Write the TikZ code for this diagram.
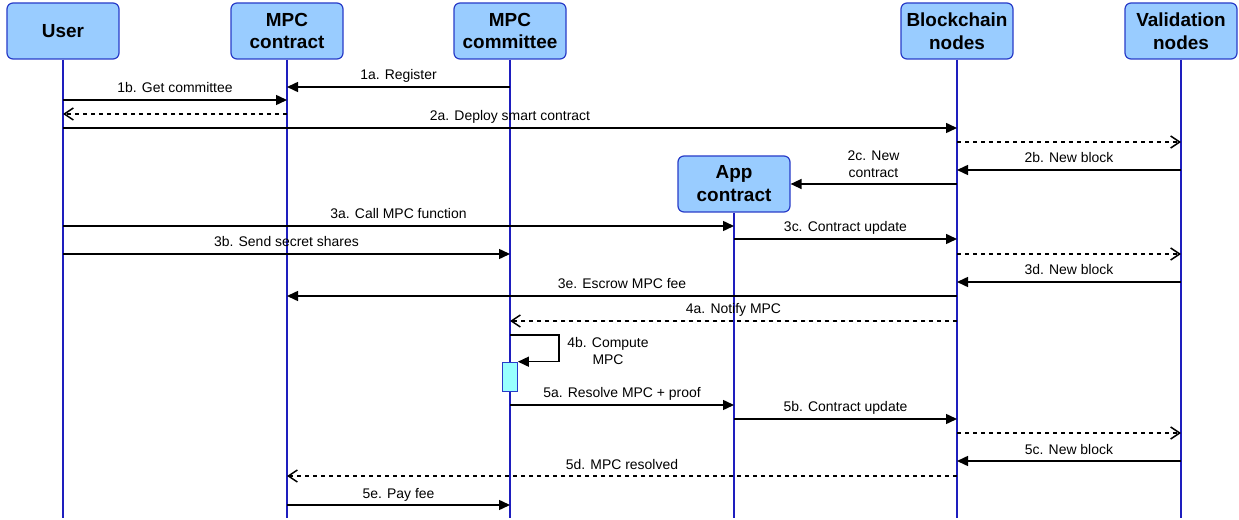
\documentclass[tikz,border=0pt]{standalone}
\usepackage{fontspec}
\setmainfont{Liberation Sans}
\usepackage{tikz}
\usetikzlibrary{
    arrows.meta,
    calc,
    positioning
}
\definecolor{headblue}{HTML}{99CCFF}
\definecolor{boxblue}{RGB}{40,60,200}
\definecolor{lifeblue}{RGB}{30,30,190}
\definecolor{actcyan}{HTML}{99FFFF}

\begin{document}
\begin{tikzpicture}[x=1bp, y=-1bp,
    actor/.style={draw=boxblue, fill=headblue, rounded corners=6bp, line width=1.2bp,
        minimum width=112bp, minimum height=56bp, inner sep=0pt, align=center,
        font=\bfseries\fontsize{19}{23}\selectfont},
    life/.style={draw=lifeblue, line width=1.5bp},
    msg/.style={-{Triangle[length=11bp, width=10bp]}, line width=1.5bp},
    reply/.style={-{Straight Barb[length=9bp, width=12bp]}, line width=1.5bp,
        dash pattern=on 4bp off 4bp},
    lbl/.style={midway, anchor=base, yshift=7bp, inner sep=0pt,
        font=\fontsize{14}{17}\selectfont},
    note/.style={inner sep=0pt, align=center, font=\fontsize{14}{17}\selectfont},
    actbox/.style={draw=boxblue, fill=actcyan, line width=1.2bp,
        minimum width=14.6bp, minimum height=29.4bp, inner sep=0pt}]
    \useasboundingbox (0,0) rectangle (1239,520);

    % participants
    \node[actor] (user)  at (63,31)   {User};
    \node[actor] (mpcc)  at (287,31)  {MPC\\contract};
    \node[actor] (comm)  at (510,31)  {MPC\\committee};
    \node[actor] (chain) at (957,31)  {Blockchain\\nodes};
    \node[actor] (valid) at (1181,31) {Validation\\nodes};
    \node[actor] (app)   at (734,184) {App\\contract};

    % lifelines
    \foreach \p in {user, mpcc, comm, chain, valid, app}
        \draw[life] (\p.south) -- (\p |- 0,518);

    % phase 1: committee setup
    \draw[msg] (comm |- 0,87) -- node[lbl] {1a. Register} (mpcc |- 0,87);
    \draw[msg] (user |- 0,100) -- node[lbl] {1b. Get committee} (mpcc |- 0,100);
    \draw[reply] (mpcc |- 0,114) -- (user |- 0,114);

    % phase 2: deployment
    \draw[msg] (user |- 0,128) -- node[lbl] {2a. Deploy smart contract} (chain |- 0,128);
    \draw[reply] (chain |- 0,142) -- (valid |- 0,142);
    \draw[msg] (valid |- 0,170) -- node[lbl] {2b. New block} (chain |- 0,170);
    \draw[msg] (chain |- 0,184) -- (app.east);
    \node[note] (newc) at (873.5,164) {2c. New\\contract};

    % phase 3: call
    \draw[msg] (user |- 0,226) -- node[lbl] {3a. Call MPC function} (app |- 0,226);
    \draw[msg] (app |- 0,239) -- node[lbl] {3c. Contract update} (chain |- 0,239);
    \draw[msg] (user |- 0,254) -- node[lbl] {3b. Send secret shares} (comm |- 0,254);
    \draw[reply] (chain |- 0,254) -- (valid |- 0,254);
    \draw[msg] (valid |- 0,282) -- node[lbl] {3d. New block} (chain |- 0,282);
    \draw[msg] (chain |- 0,296) -- node[lbl] {3e. Escrow MPC fee} (mpcc |- 0,296);

    % phase 4: computation
    \draw[reply] (chain |- 0,321) -- node[lbl] {4a. Notify MPC} (comm |- 0,321);
    \node[actbox] (act) at (510,377) {};
    \draw[msg] (comm |- 0,335) -- (559,335) |- (act.north east);
    \node[note] (comp) at (608,351) {4b. Compute\\MPC};

    % phase 5: resolution
    \draw[msg] (comm |- 0,405) -- node[lbl] {5a. Resolve MPC + proof} (app |- 0,405);
    \draw[msg] (app |- 0,419) -- node[lbl] {5b. Contract update} (chain |- 0,419);
    \draw[reply] (chain |- 0,433) -- (valid |- 0,433);
    \draw[msg] (valid |- 0,461) -- node[lbl] {5c. New block} (chain |- 0,461);
    \draw[reply] (chain |- 0,476) -- node[lbl] {5d. MPC resolved} (mpcc |- 0,476);
    \draw[msg] (mpcc |- 0,505) -- node[lbl] {5e. Pay fee} (comm |- 0,505);
\end{tikzpicture}
\end{document}
